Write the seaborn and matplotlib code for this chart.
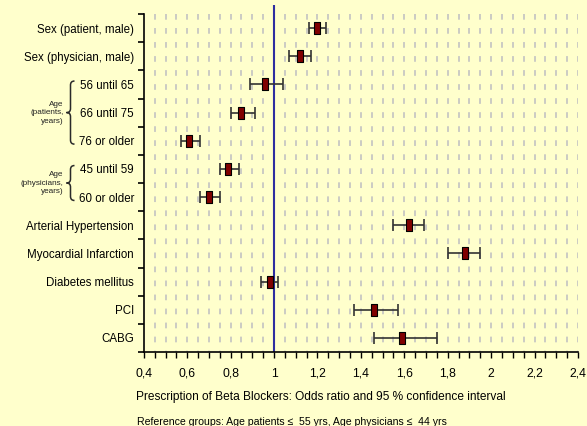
import numpy as np
import pandas as pd
import matplotlib
matplotlib.use("Agg")
import matplotlib.pyplot as plt
import seaborn as sns
from matplotlib.path import Path
from matplotlib.patches import PathPatch
from matplotlib.markers import MarkerStyle
from matplotlib.ticker import FixedLocator, FuncFormatter

# ---- data -------------------------------------------------------------
labels = ["Sex (patient, male)", "Sex (physician, male)",
          "56 until 65", "66 until 75", "76 or older",
          "45 until 59", "60 or older",
          "Arterial Hypertension", "Myocardial Infarction",
          "Diabetes mellitus", "PCI", "CABG"]
odds_ratio = [1.20, 1.12, 0.96, 0.85, 0.61, 0.79, 0.70, 1.62, 1.88, 0.98, 1.46, 1.59]
ci_lower = [1.16, 1.07, 0.89, 0.80, 0.57, 0.75, 0.66, 1.55, 1.80, 0.94, 1.37, 1.46]
ci_upper = [1.24, 1.17, 1.04, 0.91, 0.66, 0.84, 0.75, 1.69, 1.95, 1.02, 1.57, 1.75]
x_ticks = [0.4, 0.6, 0.8, 1.0, 1.2, 1.4, 1.6, 1.8, 2.0, 2.2, 2.4]
group_labels = ["Age\n(patients,\nyears)", "Age\n(physicians,\nyears)"]
group_first = ["56 until 65", "45 until 59"]
group_last = ["76 or older", "60 or older"]
x_title = "Prescription of Beta Blockers: Odds ratio and 95 % confidence interval"
footnote = "Reference groups: Age patients \u2264  55 yrs, Age physicians \u2264  44 yrs"

df = pd.DataFrame({"label": labels, "or": odds_ratio,
                   "lo": ci_lower, "hi": ci_upper})
df["pos"] = np.arange(len(df))

# ---- style ------------------------------------------------------------
bg = "#FFFFCC"
sns.set_style("white")
plt.rcParams["font.family"] = ["Liberation Sans", "DejaVu Sans"]
plt.rcParams["lines.scale_dashes"] = False

W, H = 587, 426
fig = plt.figure(figsize=(W / 100, H / 100), dpi=100, facecolor=bg)
left, right, top, bottom = 143.8, 578.0, 14.0, 352.0
ax = fig.add_axes([left / W, (H - bottom) / H, (right - left) / W, (bottom - top) / H])
ax.set_facecolor(bg)

n = len(df)
ax.set_xlim(0.4, 2.4)
ax.set_ylim(n - 0.5, -0.5)

# dashed vertical guides every 0.05
gx = [v for v in np.round(np.arange(0.45, 2.4001, 0.05), 2) if abs(v - 1.0) > 1e-6]
ax.vlines(gx, -0.5, n - 0.5, colors="#c2c2c2", linewidth=1.2,
          linestyles=[(0, (4.1, 6.0))], zorder=1)

# reference line at OR = 1
row_px = (bottom - top) / n
ax.plot([1, 1], [n - 0.5, -0.5 - 9 / row_px], color="#2e2ea0", lw=1.5,
        clip_on=False, zorder=2, solid_capstyle="butt")

# confidence intervals
ax.errorbar(df["or"], df["pos"], xerr=[df["or"] - df["lo"], df["hi"] - df["or"]],
            fmt="none", ecolor="#333333", elinewidth=1.2, capsize=4.2,
            capthick=1.2, zorder=3)

# point estimates as tall rectangles
rect = Path([(-0.45, -1), (0.45, -1), (0.45, 1), (-0.45, 1), (-0.45, -1)],
            [Path.MOVETO, Path.LINETO, Path.LINETO, Path.LINETO, Path.CLOSEPOLY])
sns.scatterplot(data=df, x="or", y="pos", marker=MarkerStyle(rect), s=72,
                color="#800000", edgecolor="black", linewidth=0.8,
                zorder=4, ax=ax, legend=False)

# axes, ticks
for s in ["top", "right"]:
    ax.spines[s].set_visible(False)
for s in ["left", "bottom"]:
    ax.spines[s].set_color("black")
    ax.spines[s].set_linewidth(1.2)

ax.xaxis.set_major_locator(FixedLocator(x_ticks))
ax.xaxis.set_minor_locator(FixedLocator(np.arange(0.4, 2.4001, 0.05)))
ax.xaxis.set_major_formatter(FuncFormatter(lambda v, p: f"{v:g}".replace(".", ",")))
ax.tick_params(axis="x", which="both", direction="out", length=4, width=1,
               color="black", bottom=True)
ax.tick_params(axis="x", which="major", pad=14, labelsize=8.8, labelcolor="black")
for t in ax.get_xticklabels():
    t.set_verticalalignment("baseline")

ax.set_yticks(df["pos"])
ax.set_yticklabels(df["label"])
ax.yaxis.set_minor_locator(FixedLocator(np.arange(-0.5, n, 1.0)))
ax.tick_params(axis="y", which="major", length=0, pad=7, labelsize=8.3,
               labelcolor="black", left=False)
ax.tick_params(axis="y", which="minor", direction="out", length=4, width=1.2,
               color="black", left=True)
ax.set_xlabel("")
ax.set_ylabel("")

# titles below the axis
fig.text(136 / W, 1 - 400 / H, x_title, ha="left", va="baseline", fontsize=8.6,
         color="black")
fig.text(137 / W, 1 - 425 / H, footnote, ha="left", va="baseline", fontsize=7.6,
         color="black")

# curly braces grouping the age categories
fig.canvas.draw()
to_px = ax.transData


def brace(x, y_top, y_bot, r=4.0):
    mid = (y_top + y_bot) / 2
    verts = [(x + r, y_top), (x, y_top), (x, y_top - r),
             (x, mid + r), (x, mid), (x - r, mid),
             (x, mid), (x, mid - r),
             (x, y_bot + r), (x, y_bot), (x + r, y_bot)]
    codes = [Path.MOVETO, Path.CURVE3, Path.CURVE3,
             Path.LINETO, Path.CURVE3, Path.CURVE3,
             Path.CURVE3, Path.CURVE3,
             Path.LINETO, Path.CURVE3, Path.CURVE3]
    fig.add_artist(PathPatch(Path(verts, codes), transform=None, fill=False,
                             edgecolor="#2a2a2a", lw=1.1))
    return mid


pos_of = dict(zip(df["label"], df["pos"]))
for text, first, last in zip(group_labels, group_first, group_last):
    y_top = to_px.transform((1, pos_of[first] - 0.12))[1]
    y_bot = to_px.transform((1, pos_of[last] + 0.12))[1]
    mid = brace(70.5, y_top, y_bot)
    fig.text(63.5 / W, mid / H, text, ha="right", va="center", fontsize=5.9,
             linespacing=1.3, color="#222222", multialignment="right")

fig.savefig("out.png", dpi=100, facecolor=bg)
